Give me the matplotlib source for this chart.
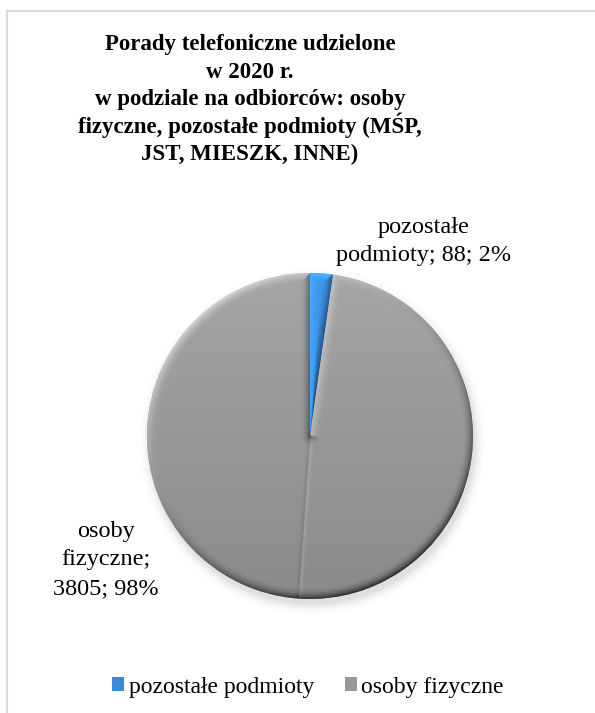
import numpy as np
import matplotlib

matplotlib.use("Agg")
import matplotlib.pyplot as plt
from matplotlib.patches import Rectangle, Patch, Circle

# data
labels = ["pozostałe podmioty", "osoby fizyczne"]
values = [88, 3805]
colors = ["#3a8ad8", "#989898"]
title_lines = ["Porady telefoniczne udzielone", "w 2020 r.", "w podziale na odbiorców: osoby",
               "fizyczne, pozostałe podmioty (MŚP,", "JST, MIESZK, INNE)"]
label_lines = [["pozostałe", "podmioty; 88; 2%"], ["osoby", "fizyczne;", "3805; 98%"]]

plt.rcParams["font.family"] = ["Liberation Serif", "DejaVu Serif"]

W, H = 595, 713
fig = plt.figure(figsize=(W / 100, H / 100), dpi=100)

# chart area frame
fig.patches.append(Rectangle((7 / W, -0.1), 1.2, 1.1 - 11 / H, transform=fig.transFigure,
                             fill=False, edgecolor="#d9d9d9", linewidth=1.5))

cx, cy, r = 310, 436, 163
lim = 1.1
ax = fig.add_axes([(cx - r * lim) / W, (H - cy - r * lim) / H, 2 * lim * r / W, 2 * lim * r / H])

# soft shadow
for i, a in enumerate(np.linspace(0.035, 0.006, 6)):
    ax.add_patch(Circle((0.015, -0.035), 1.0 + 0.012 * i, color="black", alpha=a, lw=0, zorder=0))

wedges, _ = ax.pie(values, colors=colors, startangle=90, counterclock=False, radius=1.0,
                   wedgeprops=dict(linewidth=0))

n = 700
xs = np.linspace(-lim, lim, n)
X, Y = np.meshgrid(xs, xs[::-1])
R = np.hypot(X, Y) + 1e-9
L = np.array([-0.6, 0.8])
bw = 0.07


def ray_dist(t):
    proj = X * np.cos(t) + Y * np.sin(t)
    return np.where(proj > 0, np.abs(X * np.sin(t) - Y * np.cos(t)), R)


for w, col in zip(wedges, colors):
    base = np.array(matplotlib.colors.to_rgb(col))
    t1, t2 = np.radians(w.theta1), np.radians(w.theta2)
    d_arc = 1 - R
    d1 = ray_dist(t1)
    d2 = ray_dist(t2)
    n_arc = X / R * L[0] + Y / R * L[1]
    n1 = np.sin(t1) * L[0] - np.cos(t1) * L[1]
    n2 = -np.sin(t2) * L[0] + np.cos(t2) * L[1]
    d = np.minimum(d_arc, np.minimum(d1, d2))
    nd = np.where(d == d_arc, n_arc, np.where(d == d1, n1, n2))
    t = np.clip(1 - d / bw, 0, 1) ** 2
    shade = 1 + 0.09 * Y + 0.5 * nd * t - 0.15 * t
    # faint seam continuing the slice edges below the centre (bevel artefact)
    if abs(np.degrees(t2 - t1)) > 180:
        tm = np.radians(0.5 * (wedges[0].theta1 + wedges[0].theta2)) + np.pi
        ds = ray_dist(tm)
        side = X * np.sin(tm) - Y * np.cos(tm)
        seam = np.clip(1 - ds / 0.025, 0, 1) * (R < 1)
        shade = shade - 0.12 * seam * np.sign(side)
    img = np.clip(base[None, None, :] * shade[..., None], 0, 1)
    im = ax.imshow(img, extent=(-lim, lim, -lim, lim), zorder=2, interpolation="bilinear")
    im.set_clip_path(w)
ax.set_xlim(-lim, lim)
ax.set_ylim(-lim, lim)
ax.set_aspect("equal")
ax.axis("off")

# title, one line at a time so accents don't stretch the spacing
for i, line in enumerate(title_lines):
    fig.text(250 / W, 1 - (50 + 27.5 * i) / H, line, ha="center", va="baseline",
             fontsize=16.5, fontweight="bold")

# data labels
label_pos = [(424, 233), (106, 537)]
for (lx, ly), lines in zip(label_pos, label_lines):
    for i, line in enumerate(lines):
        fig.text(lx / W, 1 - (ly + 28.5 * i) / H, line, ha="center", va="baseline",
                 fontsize=17.5)

handles = [Patch(facecolor=c, edgecolor="none") for c in colors]
fig.legend(handles, labels, loc="center", bbox_to_anchor=(308 / W, 1 - 687 / H), ncol=2,
           frameon=False, fontsize=17, handlelength=0.5, handleheight=0.5,
           handletextpad=0.2, columnspacing=1.3, borderpad=0)

fig.savefig("out.png", dpi=100)
